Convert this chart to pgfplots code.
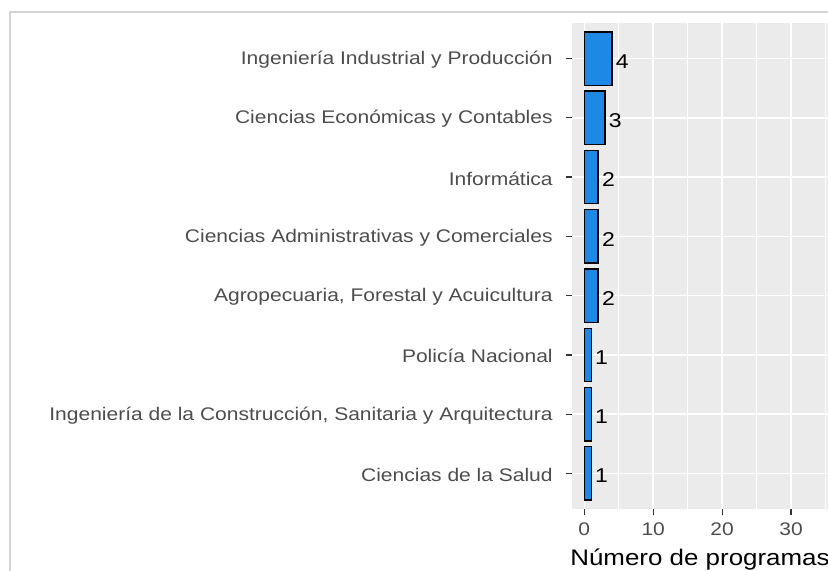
\documentclass[border=0pt]{standalone}
\usepackage{fontspec}
\setmainfont{Liberation Sans}[FakeStretch=1.15]
\usepackage{pgfplots}
\pgfplotsset{compat=1.18}
\definecolor{panelbg}{HTML}{EBEBEB}
\definecolor{barblue}{HTML}{1E88E5}
\definecolor{ticktext}{HTML}{4D4D4D}
\definecolor{tickcol}{HTML}{333333}
\definecolor{framegray}{HTML}{D3D3D3}
\begin{document}
\begin{tikzpicture}
\draw[framegray, line width=1pt] (7.5pt,0pt) -- (7.5pt,419.25pt) -- (621pt,419.25pt);
\begin{axis}[
  at={(429pt,46.5pt)}, anchor=south west,
  scale only axis, width=192pt, height=364.5pt,
  xmin=-1.785, xmax=35.37, ymin=0.4, ymax=8.6,
  axis background/.style={fill=panelbg},
  axis line style={draw=none},
  /pgf/number format/assume math mode=true,
  xbar, bar width=0.9,
  xtick={0,10,20,30}, minor xtick={5,15,25,35},
  ytick={1,2,3,4,5,6,7,8},
  yticklabels={Ciencias de la Salud,{Ingeniería de la Construcción, Sanitaria y Arquitectura},Policía Nacional,{Agropecuaria, Forestal y Acuicultura},Ciencias Administrativas y Comerciales,Informática,Ciencias Económicas y Contables,Ingeniería Industrial y Producción},
  grid=both,
  major grid style={white, line width=1.1pt},
  minor grid style={white, line width=0.55pt},
  tick align=outside, tick pos=left,
  major tick length=4.8pt, minor tick length=0pt,
  tick style={tickcol, line width=0.9pt},
  xticklabel style={font=\fontsize{13.7}{14}\selectfont, text=ticktext, inner sep=0pt, anchor=north, yshift=-5.5pt},
  yticklabel style={font=\fontsize{13.7}{14}\selectfont, text=ticktext, inner sep=0pt, anchor=east, xshift=-9.5pt, yshift=-1pt},
  xlabel={Número de programas},
  every axis x label/.style={at={(axis description cs:0.5,0)}, anchor=base, yshift=-42.5pt, font=\fontsize{16.9}{17}\selectfont},
  nodes near coords,
  nodes near coords style={font=\fontsize{15}{15}\selectfont, text=black, anchor=west, inner sep=0pt, xshift=2.5pt, yshift=-2pt},
]
\addplot[fill=barblue, draw=black, line width=1pt] coordinates {
  (1,1) (1,2) (1,3) (2,4) (2,5) (2,6) (3,7) (4,8)
};
\end{axis}
\pgfresetboundingbox
\useasboundingbox (0pt,0pt) rectangle (621pt,428.25pt);
\end{tikzpicture}
\end{document}
